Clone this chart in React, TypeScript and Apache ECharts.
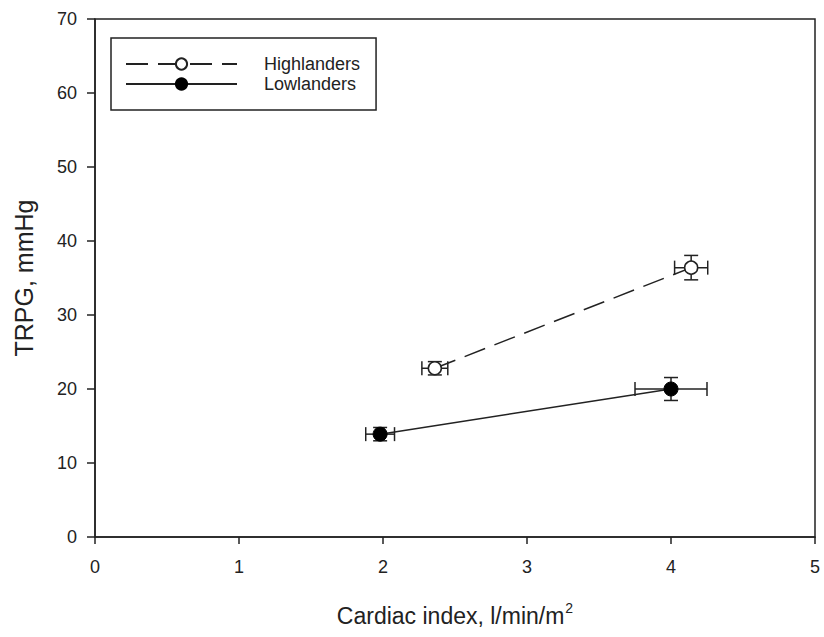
import React, { useEffect, useRef } from "react";
import * as echarts from "echarts";

const seriesNames = ["Highlanders", "Lowlanders"];
const hiX = [2.36, 4.14];
const hiY = [22.8, 36.4];
const hiXErr = [0.09, 0.115];
const hiYErr = [0.9, 1.65];
const loX = [1.98, 4.0];
const loY = [13.9, 20.0];
const loXErr = [0.1, 0.25];
const loYErr = [0.9, 1.55];
const xTicks = [0, 1, 2, 3, 4, 5];
const yTicks = [0, 10, 20, 30, 40, 50, 60, 70];

const FONT = '"Liberation Sans", Arial, sans-serif';
const INK = "#222";

function errData(xs: number[], ys: number[], xe: number[], ye: number[]) {
  return xs.map((x, i) => [x, ys[i], xe[i], ye[i]]);
}

function renderErr(params: any, api: any) {
  const x = api.value(0);
  const y = api.value(1);
  const xe = api.value(2);
  const ye = api.value(3);
  const l = api.coord([x - xe, y]);
  const r = api.coord([x + xe, y]);
  const t = api.coord([x, y + ye]);
  const b = api.coord([x, y - ye]);
  const c = 7;
  const style = { stroke: INK, lineWidth: 1.5 };
  const ln = (x1: number, y1: number, x2: number, y2: number) => ({
    type: "line",
    shape: { x1, y1, x2, y2 },
    style,
  });
  return {
    type: "group",
    children: [
      ln(l[0], l[1], r[0], r[1]),
      ln(l[0], l[1] - c, l[0], l[1] + c),
      ln(r[0], r[1] - c, r[0], r[1] + c),
      ln(t[0], t[1], b[0], b[1]),
      ln(t[0] - c, t[1], t[0] + c, t[1]),
      ln(b[0] - c, b[1], b[0] + c, b[1]),
    ],
  };
}

export default function App() {
  const ref = useRef<HTMLDivElement>(null);
  useEffect(() => {
    if (!ref.current) return;
    const chart = echarts.init(ref.current, undefined, { renderer: "svg" });
    const axisCommon = {
      axisLine: { show: true, lineStyle: { color: INK, width: 1.5 } },
      axisTick: { show: true, inside: false, lineStyle: { color: INK, width: 1.5 } },
      splitLine: { show: false },
    };
    chart.setOption({
      animation: false,
      backgroundColor: "#fff",
      textStyle: { fontFamily: FONT },
      grid: {
        left: 95,
        right: 9,
        top: 19,
        bottom: 100,
        show: true,
        borderColor: INK,
        borderWidth: 1.5,
        backgroundColor: "transparent",
      },
      legend: {
        data: seriesNames,
        orient: "vertical",
        left: 111,
        top: 38,
        padding: [17, 16, 17, 14],
        itemWidth: 111,
        itemHeight: 14,
        itemGap: 2,
        borderColor: INK,
        borderWidth: 1.5,
        borderRadius: 0,
        textStyle: { fontFamily: FONT, fontSize: 18, color: INK, padding: [0, 0, 0, 22] },
      },
      xAxis: {
        type: "value",
        min: xTicks[0],
        max: xTicks[xTicks.length - 1],
        interval: 1,
        ...axisCommon,
        axisTick: { ...axisCommon.axisTick, length: 7 },
        axisLabel: { fontFamily: FONT, fontSize: 18, color: INK, margin: 21 },
        name: "{a|Cardiac index, l/min/m}{s|2}",
        nameLocation: "middle",
        nameGap: 64,
        nameTextStyle: {
          rich: {
            a: { fontFamily: FONT, fontSize: 23, color: INK, lineHeight: 26, verticalAlign: "bottom" },
            s: { fontFamily: FONT, fontSize: 14, color: INK, lineHeight: 26, verticalAlign: "top", padding: [0, 0, 10, 1] },
          },
        },
      },
      yAxis: {
        type: "value",
        min: yTicks[0],
        max: yTicks[yTicks.length - 1],
        interval: 10,
        ...axisCommon,
        axisTick: { ...axisCommon.axisTick, length: 8 },
        axisLabel: { fontFamily: FONT, fontSize: 18, color: INK, margin: 18 },
        name: "TRPG, mmHg",
        nameLocation: "middle",
        nameGap: 59,
        nameTextStyle: { fontFamily: FONT, fontSize: 25, color: INK },
      },
      series: [
        {
          name: "hiErr",
          type: "custom",
          renderItem: renderErr,
          data: errData(hiX, hiY, hiXErr, hiYErr),
          encode: { x: 0, y: 1 },
          z: 1,
        },
        {
          name: "loErr",
          type: "custom",
          renderItem: renderErr,
          data: errData(loX, loY, loXErr, loYErr),
          encode: { x: 0, y: 1 },
          z: 1,
        },
        {
          name: seriesNames[0],
          type: "line",
          data: hiX.map((x, i) => [x, hiY[i]]),
          symbol: "circle",
          symbolSize: 13,
          lineStyle: { color: INK, width: 1.5, type: [22, 10] },
          itemStyle: { color: "#fff", borderColor: INK, borderWidth: 1.5 },
          z: 3,
        },
        {
          name: seriesNames[1],
          type: "line",
          data: loX.map((x, i) => [x, loY[i]]),
          symbol: "circle",
          symbolSize: 14,
          lineStyle: { color: INK, width: 1.5, type: "solid" },
          itemStyle: { color: "#000", borderColor: "#000", borderWidth: 1 },
          z: 3,
        },
      ],
    });
    return () => chart.dispose();
  }, []);
  return (
    <div
      ref={ref}
      style={{ position: "fixed", left: 0, top: 0, width: 824, height: 637 }}
    />
  );
}
